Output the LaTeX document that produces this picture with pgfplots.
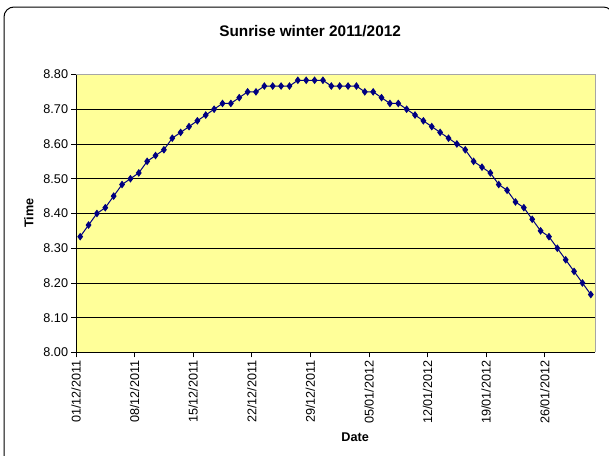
\documentclass[border=0pt]{standalone}
\usepackage{fontspec}
\setmainfont{Liberation Sans}
\usepackage{pgfplots}
\pgfplotsset{compat=1.18}
\usepackage{pgfplotstable}
\definecolor{exyellow}{RGB}{255,255,153}
\definecolor{exnavy}{RGB}{0,0,128}
\pgfplotstableread{
x y
0.5 8.3333
1.5 8.3667
2.5 8.4000
3.5 8.4167
4.5 8.4500
5.5 8.4833
6.5 8.5000
7.5 8.5167
8.5 8.5500
9.5 8.5667
10.5 8.5833
11.5 8.6167
12.5 8.6333
13.5 8.6500
14.5 8.6667
15.5 8.6833
16.5 8.7000
17.5 8.7167
18.5 8.7167
19.5 8.7333
20.5 8.7500
21.5 8.7500
22.5 8.7667
23.5 8.7667
24.5 8.7667
25.5 8.7667
26.5 8.7833
27.5 8.7833
28.5 8.7833
29.5 8.7833
30.5 8.7667
31.5 8.7667
32.5 8.7667
33.5 8.7667
34.5 8.7500
35.5 8.7500
36.5 8.7333
37.5 8.7167
38.5 8.7167
39.5 8.7000
40.5 8.6833
41.5 8.6667
42.5 8.6500
43.5 8.6333
44.5 8.6167
45.5 8.6000
46.5 8.5833
47.5 8.5500
48.5 8.5333
49.5 8.5167
50.5 8.4833
51.5 8.4667
52.5 8.4333
53.5 8.4167
54.5 8.3833
55.5 8.3500
56.5 8.3333
57.5 8.3000
58.5 8.2667
59.5 8.2333
60.5 8.2000
61.5 8.1667
}\sunrise
\begin{document}
\begin{tikzpicture}
\useasboundingbox (0,0) rectangle (456.75pt,341.25pt);
\begin{scope}
\clip (0,0) rectangle (456.75pt,341.25pt);
\draw[black, line width=0.75pt, rounded corners=7.5pt] (3pt,-2pt) -- (3pt,336pt) -- (460pt,336pt) -- (460pt,300pt);
\end{scope}
\begin{axis}[
  at={(57pt,76.9pt)}, anchor=south west,
  scale only axis, width=389.25pt, height=208.5pt,
  xmin=0, xmax=62, ymin=8.0, ymax=8.8,
  axis background/.style={fill=exyellow},
  axis x line*=bottom, axis y line*=left,
  axis line style={black, line width=0.75pt},
  xtick={0,7,14,21,28,35,42,49,56},
  xticklabels={01/12/2011,08/12/2011,15/12/2011,22/12/2011,29/12/2011,05/01/2012,12/01/2012,19/01/2012,26/01/2012},
  x tick label style={rotate=90, anchor=east, font=\fontsize{9.5}{11}\selectfont, inner sep=2pt},
  ytick={8.0,8.1,...,8.8},
  y tick label style={font=\fontsize{9.5}{11}\selectfont, inner sep=2pt},
  /pgf/number format/assume math mode=true,
  yticklabel style={/pgf/number format/.cd, fixed, fixed zerofill, precision=2},
  tick align=outside, major tick length=3.75pt,
  tick style={black, line width=0.6pt},
  ymajorgrids, grid style={black, line width=0.6pt},
  every axis title shift=0pt,
  title={Sunrise winter 2011/2012},
  title style={font=\bfseries\fontsize{11.5}{13}\selectfont, at={(axis description cs:0.451,1.155)}, anchor=center},
  xlabel={Date},
  xlabel style={font=\bfseries\fontsize{9.5}{11}\selectfont, at={(axis description cs:0.538,-0.305)}, anchor=center},
  ylabel={Time},
  ylabel style={font=\bfseries\fontsize{9.5}{11}\selectfont, at={(axis description cs:-0.091,0.501)}, anchor=center, rotate=0},
  clip=false,
]
\draw[gray!70, line width=0.75pt] (rel axis cs:0,1) -- (rel axis cs:1,1) -- (rel axis cs:1,0);
\addplot[exnavy, line width=0.75pt, mark=diamond*, mark size=2.3pt, mark options={fill=exnavy, draw=exnavy}] table[x=x,y=y] {\sunrise};
\end{axis}
\end{tikzpicture}
\end{document}
